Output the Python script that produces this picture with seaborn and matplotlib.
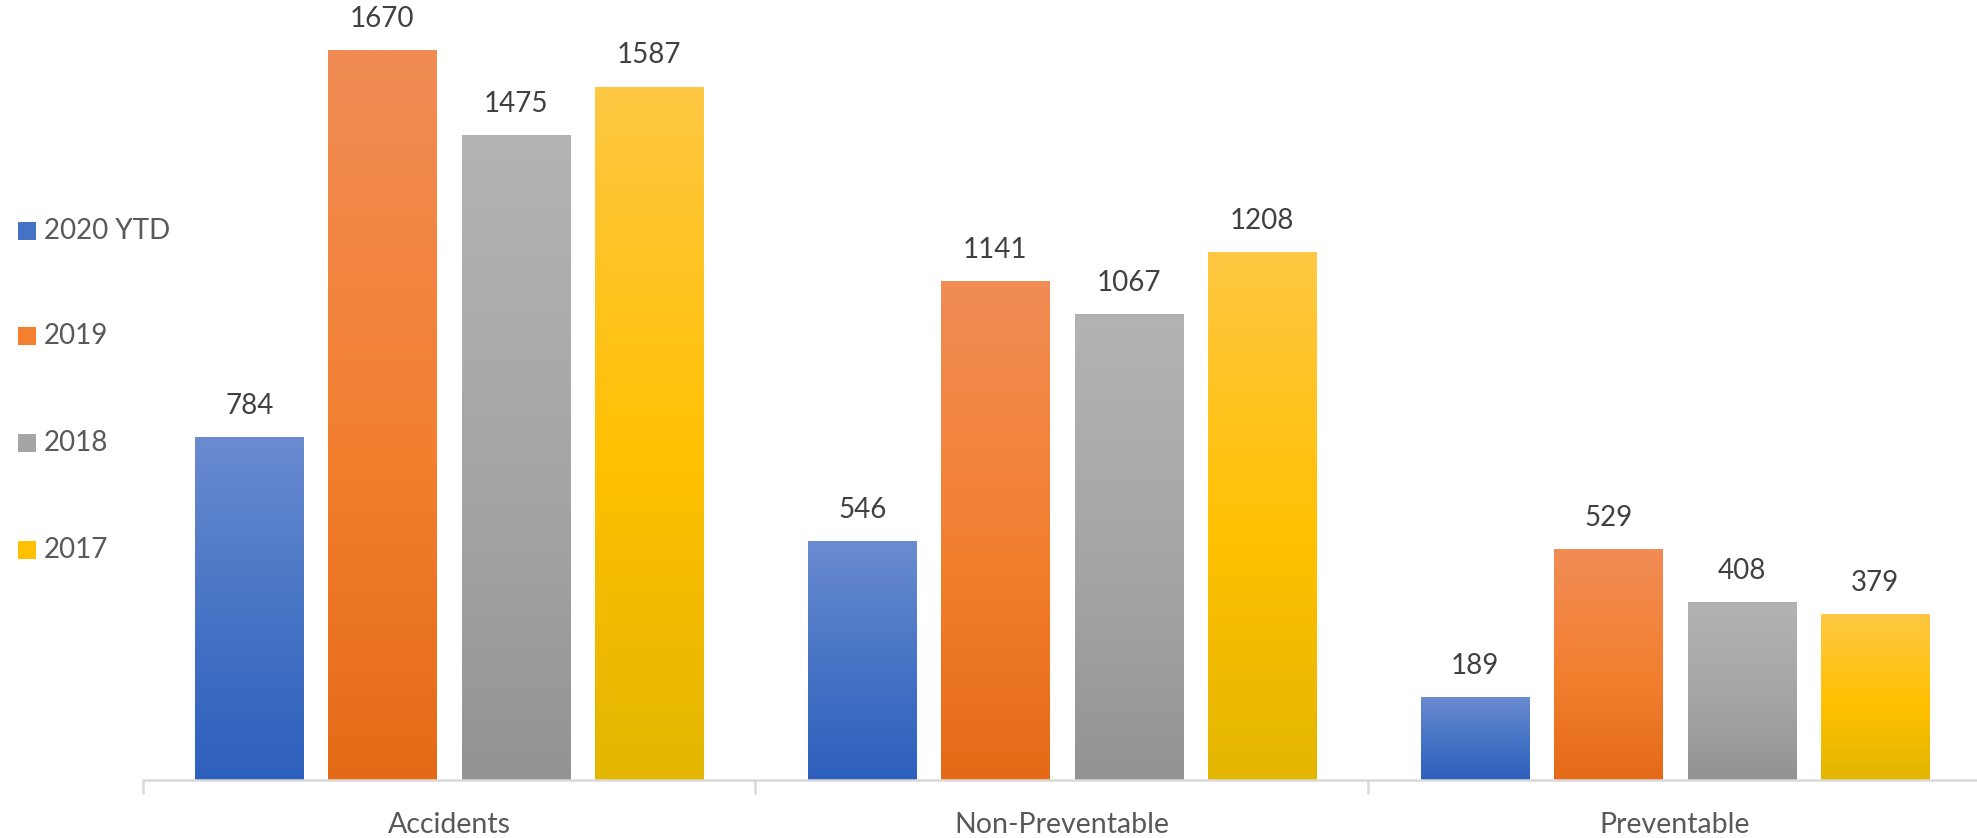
import numpy as np
import pandas as pd
import matplotlib
matplotlib.use("Agg")
import matplotlib.pyplot as plt
from matplotlib.colors import LinearSegmentedColormap
from matplotlib.patches import Rectangle
import seaborn as sns

# ---- data ----
categories = ["Accidents", "Non-Preventable", "Preventable"]
series = ["2020 YTD", "2019", "2018", "2017"]
v_2020_ytd = [784, 546, 189]
v_2019 = [1670, 1141, 529]
v_2018 = [1475, 1067, 408]
v_2017 = [1587, 1208, 379]

values = {"2020 YTD": v_2020_ytd, "2019": v_2019, "2018": v_2018, "2017": v_2017}
df = pd.DataFrame(
    [(c, s, values[s][i]) for s in series for i, c in enumerate(categories)],
    columns=["category", "series", "count"],
)

# base colours and their light (top) / dark (bottom) gradient stops
base = {"2020 YTD": "#4472C4", "2019": "#F37F2F", "2018": "#A5A5A5", "2017": "#FFC000"}
tops = {"2020 YTD": "#6A8BD0", "2019": "#F08C55", "2018": "#B3B3B3", "2017": "#FFC843"}
bots = {"2020 YTD": "#2D60BD", "2019": "#E46A17", "2018": "#939393", "2017": "#E3B600"}

sns.set_theme(style="white")
plt.rcParams["font.family"] = ["Lato", "DejaVu Sans"]

W, H = 1977, 838
fig = plt.figure(figsize=(W / 100, H / 100), dpi=100)
ax = fig.add_axes([142.5 / W, 58 / H, 1839 / W, 780 / H])

sns.barplot(
    data=df, x="category", y="count", hue="series", order=categories,
    hue_order=series, palette=base, width=0.869, gap=0.188,
    legend=False, ax=ax, saturation=1.0,
)

# vertical gradient fill for each bar
grad = np.linspace(0, 1, 256).reshape(-1, 1)
for s, cont in zip(series, ax.containers):
    cmap = LinearSegmentedColormap.from_list(
        s, [(0, tops[s]), (0.55, base[s]), (1, bots[s])]
    )
    for bar in cont:
        x0, y0 = bar.get_x(), bar.get_y()
        w, h = bar.get_width(), bar.get_height()
        im = ax.imshow(grad, cmap=cmap, aspect="auto", origin="upper",
                       extent=[x0, x0 + w, y0, y0 + h], zorder=2,
                       interpolation="bilinear")
        im.set_clip_path(bar)
        bar.set_facecolor("none")
    ax.bar_label(cont, padding=13, fontsize=20, color="#404040")

ax.set_xlim(-0.5, 2.5)
ax.set_ylim(0, 1785)

# axes styling
for side in ["top", "right", "left"]:
    ax.spines[side].set_visible(False)
ax.spines["bottom"].set_color("#D9D9D9")
ax.spines["bottom"].set_linewidth(1.8)
ax.set_yticks([])
ax.set_xlabel("")
ax.set_ylabel("")
ax.set_xticks(range(len(categories)))
ax.set_xticklabels(categories, fontsize=20.5, color="#595959")
ax.tick_params(axis="x", which="major", length=0, pad=23)
ax.set_xticks([-0.5, 0.5, 1.5, 2.5], minor=True)
ax.tick_params(axis="x", which="minor", length=10, width=1.8, color="#D9D9D9",
               direction="out", bottom=True)

# legend on the left side
legend_y = [231, 336, 443, 550]
for s, yc in zip(series, legend_y):
    fig.add_artist(Rectangle((18 / W, 1 - (yc + 9) / H), 18 / W, 18 / H,
                             transform=fig.transFigure, facecolor=base[s],
                             edgecolor="none"))
    fig.text(44 / W, 1 - yc / H, s, fontsize=20, color="#595959",
             va="center", ha="left")

fig.savefig("out.png", dpi=100, facecolor="white")
